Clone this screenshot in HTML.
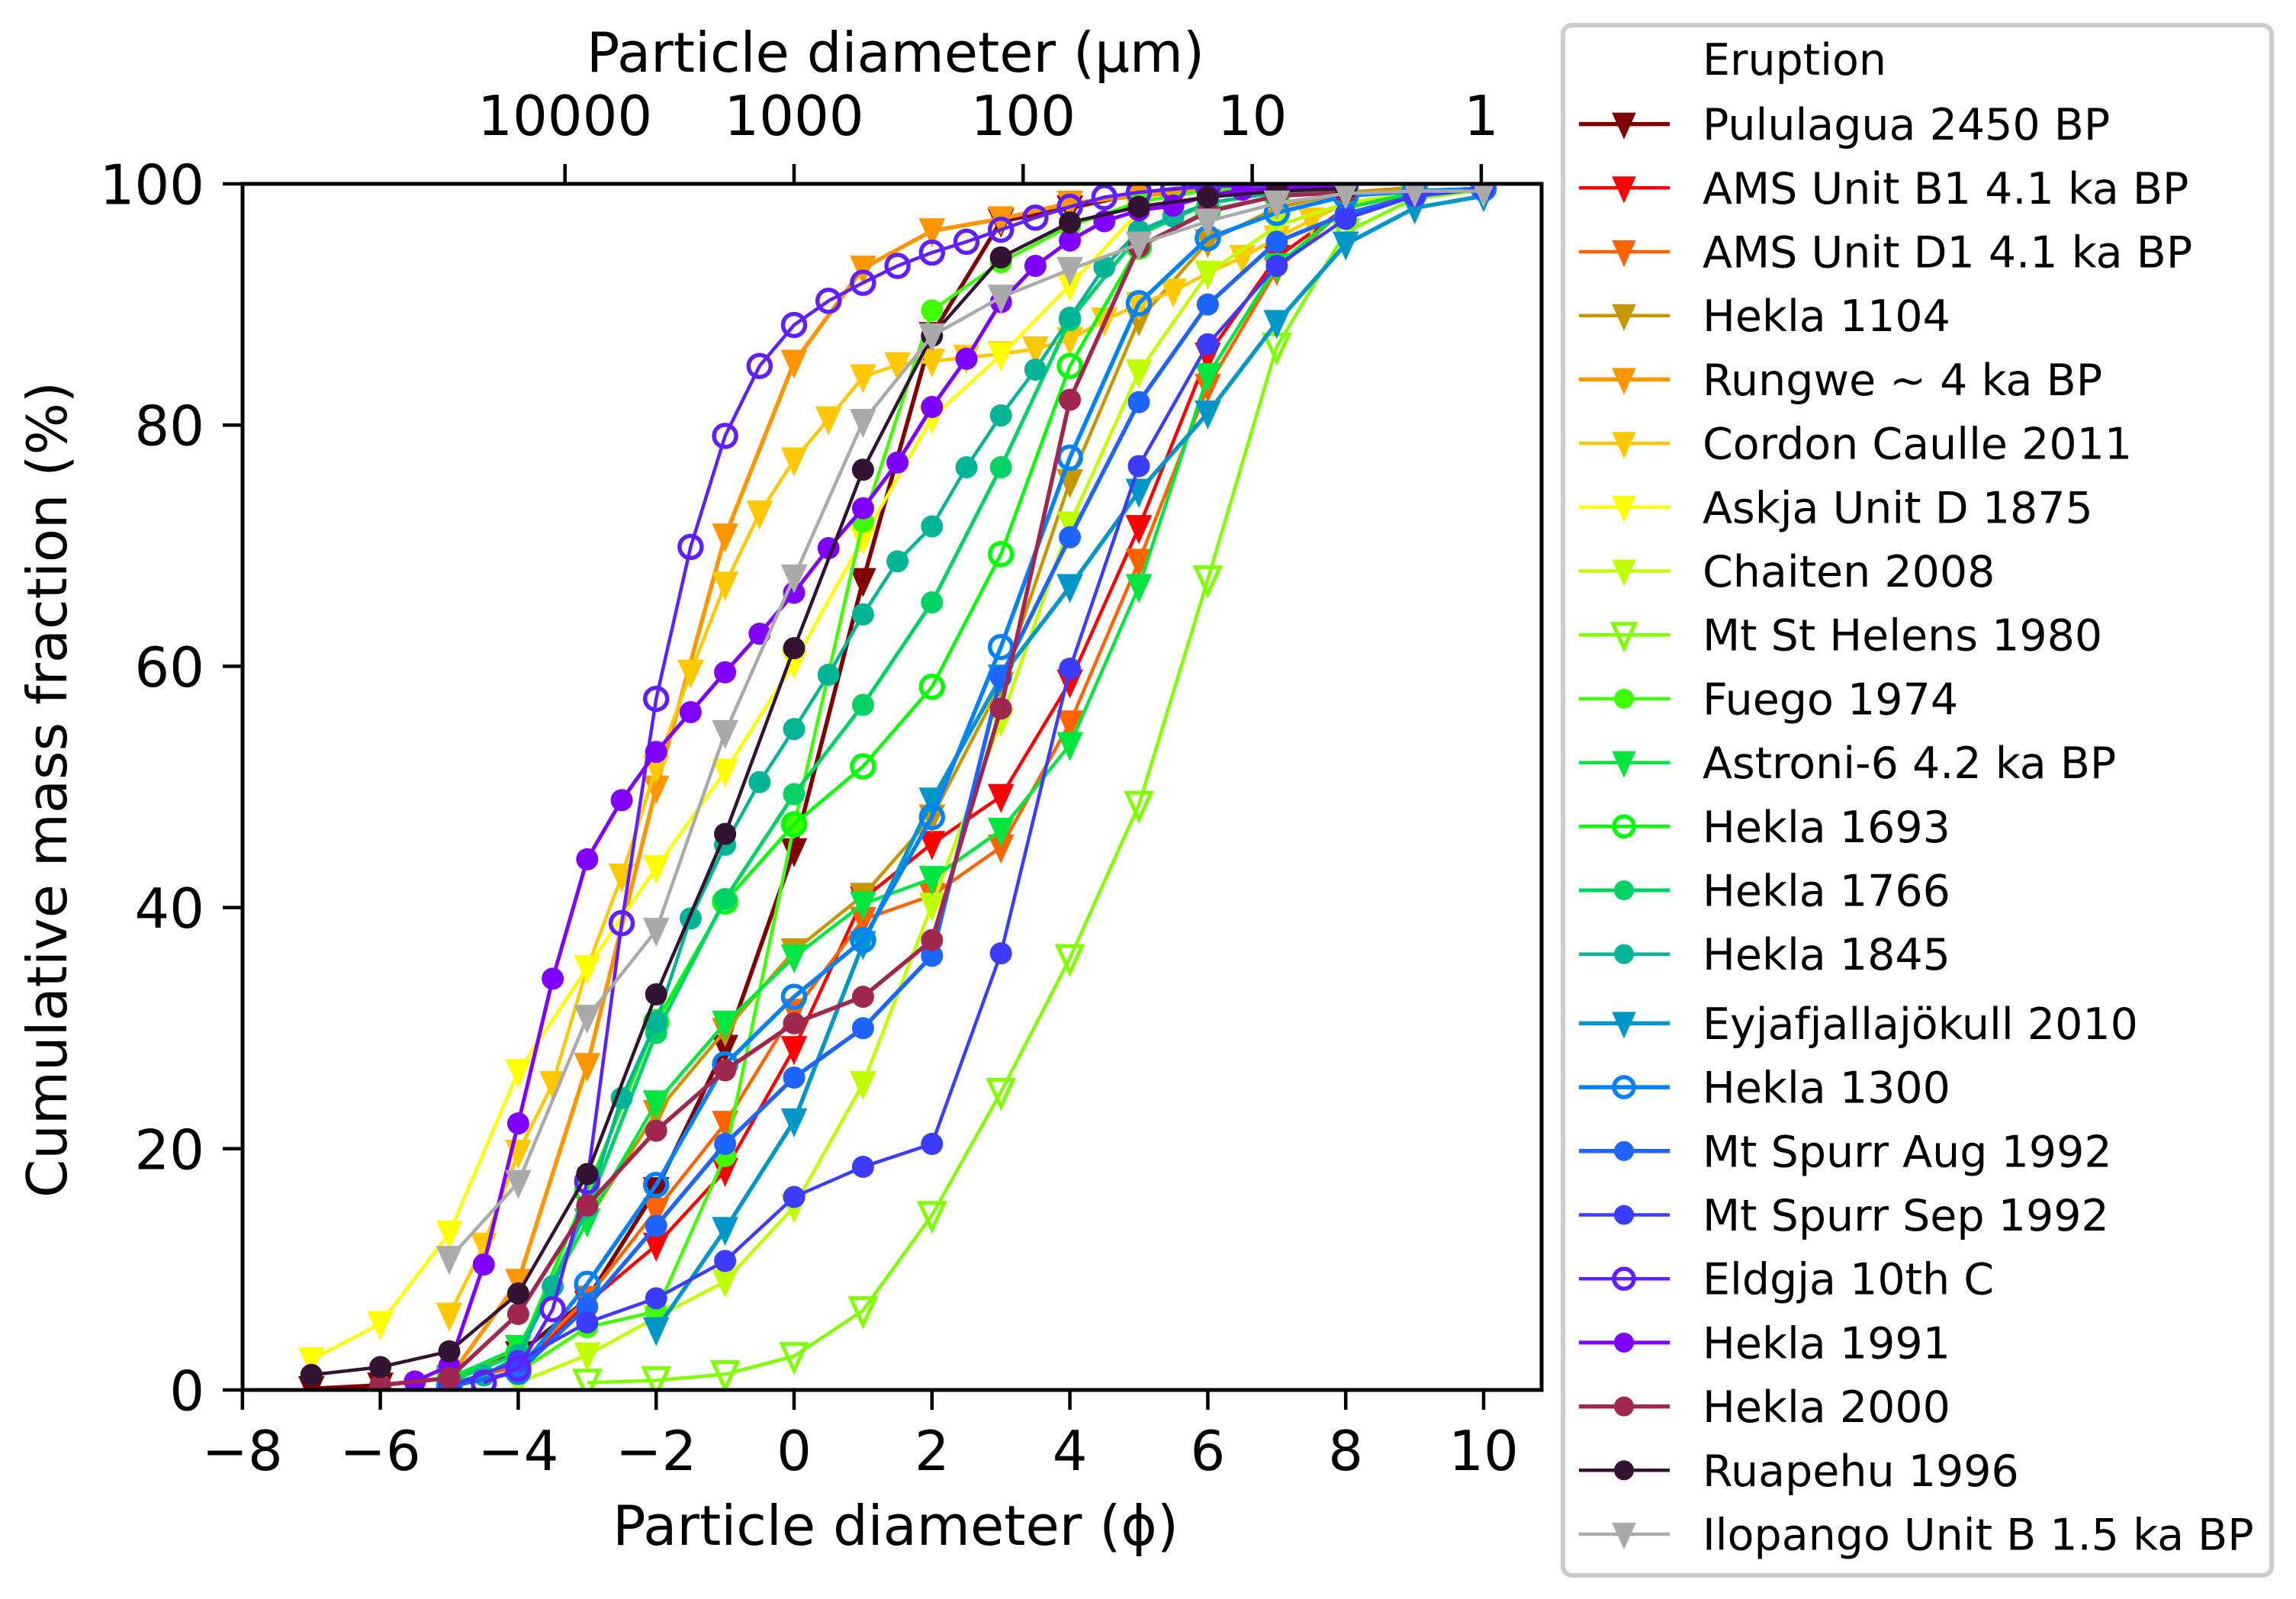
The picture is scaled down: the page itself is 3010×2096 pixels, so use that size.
<!DOCTYPE html>
<html lang="en">
<head>
<meta charset="utf-8">
<title>Cumulative mass fraction by particle diameter</title>
<style>
html,body{margin:0;padding:0;background:#fff;width:3010px;height:2096px;overflow:hidden}
svg{display:block;position:absolute;left:0;top:0}
text{font-family:"DejaVu Sans","Liberation Sans",sans-serif;fill:#000}
</style>
</head>
<body>
<svg id="chart" xmlns="http://www.w3.org/2000/svg" width="3010" height="2096" viewBox="0 0 3010 2096">
  <rect x="0" y="0" width="3010" height="2096" fill="#fff"/>
  <defs><clipPath id="plot-clip"><rect x="318" y="241" width="1703" height="1581"/></clipPath></defs>
  <g id="series-layer" clip-path="url(#plot-clip)"></g>
  <rect x="318" y="241" width="1703" height="1581" fill="none" stroke="#000" stroke-width="5"/>
  <g id="bottom-axis"></g>
  <g id="left-axis"></g>
  <g id="top-axis"></g>
  <text x="1174" y="2025" text-anchor="middle" font-size="72">Particle diameter (ϕ)</text>
  <text x="1174" y="94" text-anchor="middle" font-size="72">Particle diameter (µm)</text>
  <text transform="translate(87,1035) rotate(-90)" text-anchor="middle" font-size="72">Cumulative mass fraction (%)</text>
  <g id="legend">
    <rect x="2049" y="33" width="929" height="2032" rx="12" ry="12" fill="#fff" stroke="#cccccc" stroke-width="6"/>
    <text x="2232" y="98" font-size="57">Eruption</text>
  </g>
</svg>
<script>
// ---- categories ----
const seriesNames = ["Pululagua 2450 BP","AMS Unit B1 4.1 ka BP","AMS Unit D1 4.1 ka BP","Hekla 1104","Rungwe ~ 4 ka BP","Cordon Caulle 2011","Askja Unit D 1875","Chaiten 2008","Mt St Helens 1980","Fuego 1974","Astroni-6 4.2 ka BP","Hekla 1693","Hekla 1766","Hekla 1845","Eyjafjallajökull 2010","Hekla 1300","Mt Spurr Aug 1992","Mt Spurr Sep 1992","Eldgja 10th C","Hekla 1991","Hekla 2000","Ruapehu 1996","Ilopango Unit B 1.5 ka BP"];

// ---- tick labels ----
const bottomTicks = [-8,-6,-4,-2,0,2,4,6,8,10];
const leftTicks = [0,20,40,60,80,100];
const topTicks = [10000,1000,100,10,1];

// ---- series values: phi (x) and cumulative mass % (y) ----
const phiPululagua = [-7,-6,-5,-4,-3,-2,-1,0,1,2,3,4,5,6,7,8];
const massPululagua = [0.1,0.4,1,3,7.5,16.6,28.4,44.7,67.1,87.5,96.9,98,99.2,99.6,99.8,99.9];
const phiAmsB1 = [-5,-4,-3,-2,-1,0,1,2,3,4,5,6,7,8,9,10];
const massAmsB1 = [0.5,2,7.2,12,18.2,28.3,40.7,45.3,49.2,58.7,71.5,85.8,93.9,98,99.3,99.7];
const phiAmsD1 = [-5,-4,-3,-2,-1,0,1,2,3,4,5,6,7,8,9,10];
const massAmsD1 = [0.5,2,7.6,14.9,22.1,31.4,39,41,45,55.3,68.7,83.2,92.9,98,99.2,99.7];
const phiHekla1104 = [-5,-4,-3,-2,-1,0,1,2,3,4,5,6,7,8,9];
const massHekla1104 = [0.8,3.5,14,23,29.8,36.4,41,47.5,58.5,75.3,88.7,95.2,98,99.3,99.7];
const phiRungwe = [-5,-4,-3,-2,-1,0,1,2,3,4,5,6,7,8];
const massRungwe = [1,9,26.9,49.9,70.8,85.2,93,96.1,97.1,98.4,99,99.5,99.7,99.8];
const phiCordon = [-5,-4.5,-4,-3.5,-3,-2.5,-2,-1.5,-1,-0.5,0,0.5,1,1.5,2,2.5,3,3.5,4,4.5,5,5.5,6,6.5,7,7.5,8,9,10];
const massCordon = [6.2,12,19.7,25.4,35,42.6,51.6,59.5,66.8,72.7,77.1,80.5,84,85,85.3,85.6,85.9,86.3,87.1,88.7,90,91.1,92.6,93.9,95.5,97,98.4,99.2,99.6];
const phiAskja = [-7,-6,-5,-4,-3,-2,-1,0,1,2,3,4,5,6,7,8];
const massAskja = [2.5,5.5,13,26.4,35,43.3,51.3,60.3,70.6,80.6,85.8,91.6,97.7,99,99.5,99.7];
const phiChaiten = [-4,-3,-2,-1,0,1,2,3,4,5,6,7,8,9,10];
const massChaiten = [0.6,2.9,6,9,15.2,25.4,40.2,55.5,71.8,84.4,92.6,96.5,98.4,99.3,99.7];
const phiHelens = [-3,-2,-1,0,1,2,3,4,5,6,7,8,9,10];
const massHelens = [0.6,0.8,1.3,2.8,6.6,14.5,24.7,35.8,48.5,67.2,86.5,96,98.8,99.5];
const phiFuego = [-4,-3,-2,-1,0,1,2,3,4,5,6,7];
const massFuego = [1.5,5.2,6.5,19.4,46.8,72,89.5,93.5,96.5,98.5,99.5,99.7];
const phiAstroni = [-5,-4,-3,-2,-1,0,1,2,3,4,5,6,7,8,9];
const massAstroni = [1,3.5,14,23.8,30.4,35.9,40.3,42.4,46.4,53.5,66.6,84.1,93.2,98,99.3];
const phiHekla1693 = [-5,-4,-3,-2,-1,0,1,2,3,4,5,6,7,8];
const massHekla1693 = [0.8,3,16.5,30.5,40.5,46.9,51.7,58.3,69.3,84.9,94.8,97.8,99,99.5];
const phiHekla1766 = [-5,-4,-3,-2,-1,0,1,2,3,4,5,6,7,8];
const massHekla1766 = [0.7,3,15,29.6,40.7,49.4,56.8,65.3,76.5,88.7,95.8,98.4,99.3,99.7];
const phiHekla1845 = [-5,-4.5,-4,-3.5,-3,-2.5,-2,-1.5,-1,-0.5,0,0.5,1,1.5,2,2.5,3,3.5,4,4.5,5,5.5,6,7,8];
const massHekla1845 = [0.6,1.2,2.8,8.6,15.2,24.2,30.5,39.1,45.2,50.4,54.8,59.3,64.3,68.7,71.6,76.5,80.8,84.6,88.9,93.1,96.1,97.3,98.4,99.3,99.7];
const phiEyja = [-2,-1,0,1,2,3,4,5,6,7,8,9,10];
const massEyja = [5,13.3,22.3,37,48.9,59.1,66.6,74.5,81,88.5,95,98,99];
const phiHekla1300 = [-5,-4,-3,-2,-1,0,1,2,3,4,5,6,7,8,9,10];
const massHekla1300 = [0.3,1.5,8.8,17,27,32.6,37.3,47.5,61.6,77.3,90.1,95.5,97.6,99,99.4,99.6];
const phiSpurrAug = [-5,-4,-3,-2,-1,0,1,2,3,4,5,6,7,8,9,10];
const massSpurrAug = [0.3,1.5,6.9,13.6,20.4,25.9,30,36,59.1,70.7,81.9,90,95.2,97.5,99,99.6];
const phiSpurrSep = [-5,-4,-3,-2,-1,0,1,2,3,4,5,6,7,8,9,10];
const massSpurrSep = [0.3,2.4,5.6,7.6,10.7,16,18.5,20.4,36.2,59.8,76.6,86.7,93.2,97.1,99,99.6];
const phiEldgja = [-4.5,-4,-3.5,-3,-2.5,-2,-1.5,-1,-0.5,0,0.5,1,1.5,2,2.5,3,3.5,4,4.5,5,5.5,6,7,8];
const massEldgja = [0.6,1.8,6.7,17.3,38.7,57.3,69.9,79.1,84.9,88.3,90.3,91.8,93.2,94.3,95.2,96.2,97.2,98.1,98.9,99.3,99.6,99.8,99.9,100];
const phiHekla1991 = [-5.5,-5,-4.5,-4,-3.5,-3,-2.5,-2,-1.5,-1,-0.5,0,0.5,1,1.5,2,2.5,3,3.5,4,4.5,5,5.5,6,6.5,7,8];
const massHekla1991 = [0.7,2,10.4,22.1,34.1,44,48.9,52.9,56.2,59.5,62.7,66.1,69.8,73.1,76.9,81.5,85.5,90.2,93.2,95.3,96.9,97.8,98.2,99,99.5,99.6,99.8];
const phiHekla2000 = [-6,-5,-4,-3,-2,-1,0,1,2,3,4,5,6,7,8];
const massHekla2000 = [0.4,1,6.3,15.3,21.5,26.5,30.4,32.6,37.3,56.5,82.1,94.8,97.7,99,99.3];
const phiRuapehu = [-7,-6,-5,-4,-3,-2,-1,0,1,2,3,4,5,6,7,8];
const massRuapehu = [1.25,1.9,3.2,8,17.9,32.8,46.1,61.5,76.3,87.4,93.9,96.8,98.1,98.9,99.4,99.6];
const phiIlopango = [-5,-4,-3,-2,-1,0,1,2,3,4,5,6,7,8,9,10];
const massIlopango = [10.9,17.2,30.9,38.1,54.5,67.4,80.3,87.4,90.6,92.9,95,96.9,98.4,99.2,99.4,99.4];

const seriesPhi = [phiPululagua,phiAmsB1,phiAmsD1,phiHekla1104,phiRungwe,phiCordon,phiAskja,phiChaiten,phiHelens,phiFuego,phiAstroni,phiHekla1693,phiHekla1766,phiHekla1845,phiEyja,phiHekla1300,phiSpurrAug,phiSpurrSep,phiEldgja,phiHekla1991,phiHekla2000,phiRuapehu,phiIlopango];
const seriesMass = [massPululagua,massAmsB1,massAmsD1,massHekla1104,massRungwe,massCordon,massAskja,massChaiten,massHelens,massFuego,massAstroni,massHekla1693,massHekla1766,massHekla1845,massEyja,massHekla1300,massSpurrAug,massSpurrSep,massEldgja,massHekla1991,massHekla2000,massRuapehu,massIlopango];

// ---- styles (separate from data) ----
const seriesColors = ["#800000","#ff0000","#ff6400","#c89600","#ff9600","#ffc800","#ffff00","#bfff00","#80ff00","#40ff00","#00e640","#00ff00","#00d264","#00b496","#0096c8","#0082ff","#1e64ff","#3c3cff","#5f1fff","#8000ff","#a02850","#321432","#aaaaaa"];
const seriesMarkers = ["v","v","v","v","v","v","v","v","vo","c","v","co","c","c","v","co","c","c","co","c","c","c","v"];
const seriesWidths = [5.5,4.5,4.5,4.5,5.5,4.5,4.5,4.5,4.5,4.5,4.5,4.5,5,4.5,5.5,5.5,5.5,4.5,4.5,5,5.5,4.5,4.5];

const NS = "http://www.w3.org/2000/svg";
function xScale(phi){ return 1041 + 90.4 * phi; }
function yScale(mass){ return 1822 - 15.81 * mass; }
function topScale(um){ return xScale(-Math.log2(um / 1000)); }

function make(tag, attrs, parent){
  const el = document.createElementNS(NS, tag);
  for (const k in attrs) el.setAttribute(k, attrs[k]);
  parent.appendChild(el);
  return el;
}
function slug(s){ return s.toLowerCase().replace(/[^a-z0-9]+/g, "-").replace(/^-|-$/g, ""); }

function drawMarker(parent, kind, x, y, color, scale){
  let m;
  if (kind === "c") {
    m = make("circle", {cx:x, cy:y, r:14.5 * scale, fill:color}, parent);
  } else if (kind === "co") {
    m = make("circle", {cx:x, cy:y, r:14.5 * scale, fill:"none", stroke:color, "stroke-width":5.5}, parent);
  } else {
    const open = kind === "vo";
    const t = open ? 16 * scale : 15 * scale;
    const pts = (x - t) + "," + (y - t) + " " + (x + t) + "," + (y - t) + " " + x + "," + (y + t + 3);
    m = make("polygon", {points:pts, fill:open ? "none" : color, stroke:color, "stroke-width":open ? 5 : 3, "stroke-linejoin":"miter"}, parent);
  }
  return m;
}

// series
const layer = document.getElementById("series-layer");
seriesNames.forEach(function(name, i){
  const g = make("g", {}, layer);
  
  
  const pts = seriesPhi[i].map(function(p, j){ return xScale(p).toFixed(1) + "," + yScale(seriesMass[i][j]).toFixed(1); }).join(" ");
  const line = make("polyline", {points:pts, fill:"none", stroke:seriesColors[i], "stroke-width":seriesWidths[i], "stroke-linejoin":"round"}, g);
  
  
  seriesPhi[i].forEach(function(p, j){
    const m = drawMarker(g, seriesMarkers[i], xScale(p), yScale(seriesMass[i][j]), seriesColors[i], 1);
    
    
  });
});

// bottom axis
const bottomAxis = document.getElementById("bottom-axis");
bottomTicks.forEach(function(v){
  const x = xScale(v);
  const tick = make("line", {x1:x, x2:x, y1:1822, y2:1848, stroke:"#000", "stroke-width":4.5}, bottomAxis);
  
  
  const label = make("text", {x:x, y:1927, "text-anchor":"middle", "font-size":72}, bottomAxis);
  label.textContent = String(v).replace("-", "\u2212");
  
  
});

// left axis
const leftAxis = document.getElementById("left-axis");
leftTicks.forEach(function(v){
  const y = yScale(v);
  const tick = make("line", {x1:292, x2:318, y1:y, y2:y, stroke:"#000", "stroke-width":4.5}, leftAxis);
  
  
  const label = make("text", {x:268, y:y + 26.5, "text-anchor":"end", "font-size":72}, leftAxis);
  label.textContent = String(v);
  
  
});

// top axis
const topAxis = document.getElementById("top-axis");
topTicks.forEach(function(v){
  const x = topScale(v);
  const tick = make("line", {x1:x, x2:x, y1:215, y2:241, stroke:"#000", "stroke-width":4.5}, topAxis);
  
  
  const label = make("text", {x:x, y:177, "text-anchor":"middle", "font-size":72}, topAxis);
  label.textContent = String(v);
  
  
});

// legend
const legend = document.getElementById("legend");
seriesNames.forEach(function(name, i){
  const rowY = 162.6 + 83.7 * i + (i >= 14 ? 7 : 0);
  const entry = make("g", {}, legend);
  
  
  make("line", {x1:2070, x2:2189, y1:rowY, y2:rowY, stroke:seriesColors[i], "stroke-width":seriesWidths[i]}, entry);
  drawMarker(entry, seriesMarkers[i], 2129, rowY, seriesColors[i], 0.9);
  const text = make("text", {x:2232, y:rowY + 20.5, "font-size":57}, entry);
  text.textContent = name;
});
</script>
</body>
</html>
